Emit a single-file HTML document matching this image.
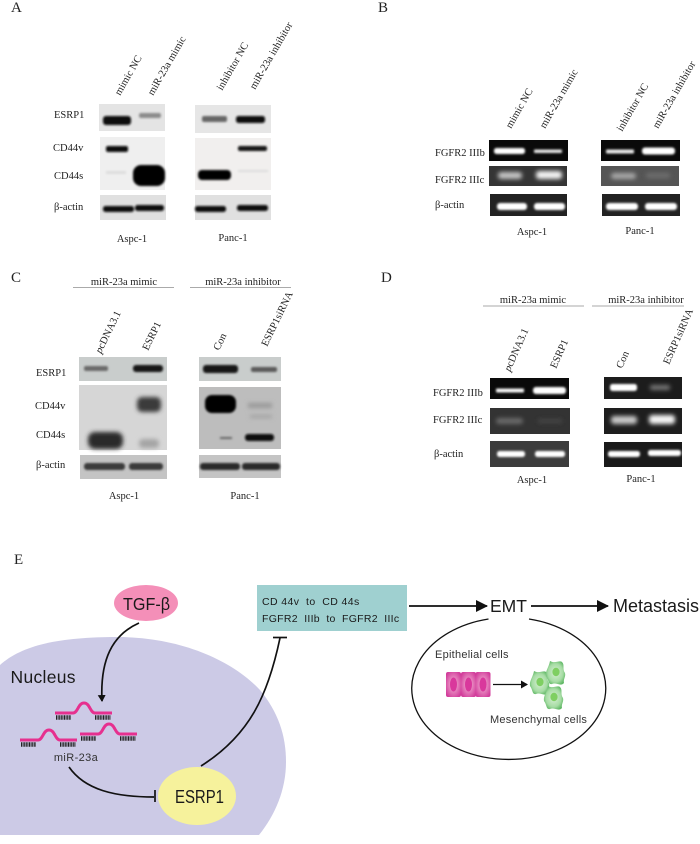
<!DOCTYPE html>
<html lang="en"><head><meta charset="utf-8"><title>Figure</title>
<style>
html,body{margin:0;padding:0;background:#fff;width:700px;height:844px;overflow:hidden}
svg{display:block}
.s{font-family:"Liberation Serif",serif;font-size:10.5px;fill:#222}
.h{font-family:"Liberation Serif",serif;font-size:15px;fill:#222}
.a{font-family:"Liberation Sans",sans-serif;fill:#1a1a1a}
</style></head><body>
<svg width="700" height="844" viewBox="0 0 700 844" xmlns="http://www.w3.org/2000/svg">
<defs>
<filter id="b1" x="-30%" y="-100%" width="160%" height="300%"><feGaussianBlur stdDeviation="1.1"/></filter>
<filter id="b2" x="-30%" y="-100%" width="160%" height="300%"><feGaussianBlur stdDeviation="2.2"/></filter>
<marker id="ar" markerWidth="7" markerHeight="8" refX="6" refY="4" orient="auto" markerUnits="userSpaceOnUse"><path d="M0,0L7,4L0,8z" fill="#111"/></marker>
<marker id="ar2" markerWidth="12" markerHeight="12" refX="11" refY="6" orient="auto" markerUnits="userSpaceOnUse"><path d="M0,0L12,6L0,12z" fill="#111"/></marker>
<radialGradient id="pk" cx="50%" cy="50%" r="60%"><stop offset="0" stop-color="#f6bcd9"/><stop offset="1" stop-color="#d23d9b"/></radialGradient>
<radialGradient id="gr" cx="50%" cy="50%" r="55%"><stop offset="0" stop-color="#d8f0d4"/><stop offset="0.7" stop-color="#a6dca4"/><stop offset="1" stop-color="#63b968"/></radialGradient>
<g id="cell"><path d="M-6,-12 C-1,-9 3,-13 6,-11 C9,-8 6,-4 9,0 C10,4 7,6 8,10 C5,14 0,9 -4,11 C-8,12 -7,7 -10,3 C-11,-2 -7,-6 -6,-12z" fill="url(#gr)"/><ellipse cx="0" cy="-1" rx="3.6" ry="4.2" fill="#7fcf62"/></g>
<g id="mir"><path d="M55,713H73C78,713 78,703 84,703C90,703 90,713 95,713H112" fill="none" stroke="#e6308f" stroke-width="3"/><path d="M56,717.500H71M95,717.500H111" stroke="#222" stroke-width="4.500" stroke-dasharray="1 .6" fill="none"/></g>
</defs>
<rect width="700" height="844" fill="#fff"/>

<!-- Panel letters -->
<text class="h" x="11" y="12">A</text><text class="h" x="378" y="12">B</text><text class="h" x="11" y="282">C</text><text class="h" x="381" y="282">D</text><text class="h" x="14" y="564">E</text>

<!-- A -->
<rect x="99" y="104" width="66" height="27" fill="#e4e4e4"/><rect x="100" y="137" width="65" height="53" fill="#efefef"/><rect x="100" y="195" width="66" height="25" fill="#e0e0e0"/>
<rect x="195" y="105" width="76" height="28" fill="#e6e6e6"/><rect x="195" y="138" width="76" height="52" fill="#f1efee"/><rect x="195" y="195" width="76" height="25" fill="#e0e0e0"/>
<g filter="url(#b1)">
<rect x="103" y="116" width="28" height="9" rx="3" fill="#0c0c0c"/><rect x="139" y="113" width="22" height="5" rx="2" fill="#8c8c8c"/>
<rect x="202" y="116" width="25" height="6" rx="2" fill="#666"/><rect x="236" y="116" width="29" height="7" rx="2.500" fill="#0f0f0f"/>
<rect x="106" y="146" width="22" height="6" rx="2" fill="#111"/><rect x="238" y="146" width="29" height="5" rx="2" fill="#161616"/>
<rect x="133" y="165" width="32" height="21" rx="8" fill="#000"/><rect x="198" y="170" width="33" height="10" rx="4" fill="#050505"/>
<rect x="106" y="171" width="20" height="3" fill="#ddd"/><rect x="238" y="170" width="30" height="2" fill="#dcdcdc"/>
<rect x="103" y="206" width="31" height="6" rx="2.500" fill="#111"/><rect x="135" y="205" width="29" height="6" rx="2.500" fill="#111"/>
<rect x="195" y="206" width="31" height="6" rx="2.500" fill="#111"/><rect x="237" y="205" width="31" height="6" rx="2.500" fill="#111"/>
</g>
<text class="s" x="54" y="118">ESRP1</text><text class="s" x="53" y="151">CD44v</text><text class="s" x="54" y="179">CD44s</text><text class="s" x="54" y="210">β-actin</text>
<text class="s" x="132" y="242" text-anchor="middle">Aspc-1</text><text class="s" x="233" y="241" text-anchor="middle">Panc-1</text>
<text class="s" transform="translate(120,96) rotate(-60)">mimic NC</text>
<text class="s" transform="translate(153,96) rotate(-60)">miR-23a mimic</text>
<text class="s" transform="translate(222,91) rotate(-60)">inhibitor NC</text>
<text class="s" transform="translate(255,90) rotate(-60)">miR-23a inhibitor</text>

<!-- B -->
<rect x="489" y="140" width="79" height="21" fill="#0a0a0a"/><rect x="489" y="166" width="78" height="20" fill="#353535"/><rect x="490" y="194" width="77" height="22" fill="#222"/>
<rect x="601" y="140" width="79" height="21" fill="#0a0a0a"/><rect x="601" y="166" width="78" height="20" fill="#555"/><rect x="602" y="194" width="78" height="22" fill="#222"/>
<g filter="url(#b1)">
<rect x="494" y="148" width="31" height="6" rx="2.500" fill="#fff"/><rect x="534" y="149.500" width="28" height="3.500" rx="1" fill="#e4e4e4"/>
<rect x="606" y="149.500" width="28" height="4" rx="1" fill="#e8e8e8"/><rect x="642" y="147.500" width="33" height="7" rx="3" fill="#fff"/>
<rect x="497" y="203" width="30" height="7" rx="3" fill="#fff"/><rect x="534" y="203" width="31" height="7" rx="3" fill="#fff"/>
<rect x="606" y="203" width="32" height="7" rx="3" fill="#fff"/><rect x="645" y="203" width="32" height="7" rx="3" fill="#fff"/>
</g>
<g filter="url(#b2)">
<rect x="498" y="172" width="24" height="7" rx="3" fill="#c4c4c4"/><rect x="536" y="171" width="26" height="8" rx="3" fill="#f4f4f4"/>
<rect x="611" y="173" width="25" height="6" rx="3" fill="#a8a8a8"/><rect x="646" y="173" width="24" height="5" rx="2" fill="#6e6e6e"/>
</g>
<text class="s" x="435" y="156">FGFR2 IIIb</text><text class="s" x="435" y="183">FGFR2 IIIc</text><text class="s" x="435" y="208">β-actin</text>
<text class="s" x="532" y="235" text-anchor="middle">Aspc-1</text><text class="s" x="640" y="234" text-anchor="middle">Panc-1</text>
<text class="s" transform="translate(511,129) rotate(-60)">mimic NC</text>
<text class="s" transform="translate(545,129) rotate(-60)">miR-23a mimic</text>
<text class="s" transform="translate(622,132) rotate(-60)">inhibitor NC</text>
<text class="s" transform="translate(658,129) rotate(-60)">miR-23a inhibitor</text>

<!-- C -->
<rect x="79" y="357" width="88" height="24" fill="#c9cdcc"/><rect x="79" y="385" width="88" height="65" fill="#d6d6d6"/><rect x="80" y="455" width="87" height="24" fill="#c4c4c4"/>
<rect x="199" y="357" width="82" height="24" fill="#c9cdcc"/><rect x="199" y="387" width="82" height="62" fill="#bdbdbd"/><rect x="199" y="455" width="82" height="23" fill="#c4c4c4"/>
<g filter="url(#b1)">
<rect x="84" y="366" width="24" height="5" rx="2" fill="#6a6a6a"/><rect x="133" y="365" width="30" height="7" rx="3" fill="#181818"/>
<rect x="203" y="365" width="35" height="8" rx="3" fill="#181818"/><rect x="251" y="367" width="26" height="5" rx="2" fill="#5a5a5a"/>
<rect x="205" y="395" width="31" height="18" rx="7" fill="#050505"/><rect x="245" y="434" width="29" height="7" rx="3" fill="#0f0f0f"/><rect x="220" y="437" width="12" height="2" fill="#666"/>
<rect x="84" y="463" width="41" height="7" rx="3" fill="#3a3a3a"/><rect x="129" y="463" width="34" height="7" rx="3" fill="#3a3a3a"/>
<rect x="200" y="463" width="40" height="7" rx="3" fill="#2c2c2c"/><rect x="242" y="463" width="38" height="7" rx="3" fill="#2c2c2c"/>
</g>
<g filter="url(#b2)">
<rect x="137" y="397" width="24" height="15" rx="5" fill="#3a3a3a"/><rect x="88" y="432" width="35" height="17" rx="7" fill="#2c2c2c"/><rect x="139" y="439" width="20" height="9" rx="4" fill="#a5a5a5"/>
<rect x="248" y="403" width="24" height="5" fill="#999"/><rect x="250" y="415" width="22" height="3" fill="#a0a0a0"/>
</g>
<text class="s" x="36" y="376">ESRP1</text><text class="s" x="35" y="409">CD44v</text><text class="s" x="36" y="438">CD44s</text><text class="s" x="36" y="468">β-actin</text>
<text class="s" x="124" y="499" text-anchor="middle">Aspc-1</text><text class="s" x="245" y="499" text-anchor="middle">Panc-1</text>
<text class="s" x="124" y="285" text-anchor="middle">miR-23a mimic</text><text class="s" x="243" y="285" text-anchor="middle">miR-23a inhibitor</text>
<path d="M73,287.500H174M190,287.500H291" stroke="#aaa" stroke-width="1"/>
<text class="s" transform="translate(101,354) rotate(-64)"><tspan font-style="italic">p</tspan>cDNA3.1</text>
<text class="s" transform="translate(148,351) rotate(-64)">ESRP1</text>
<text class="s" transform="translate(219,351) rotate(-64)">Con</text>
<text class="s" transform="translate(267,347) rotate(-64)">ESRP1siRNA</text>

<!-- D -->
<rect x="490" y="378" width="79" height="21" fill="#0a0a0a"/><rect x="490" y="408" width="80" height="26" fill="#333"/><rect x="490" y="441" width="79" height="26" fill="#3c3c3c"/>
<rect x="604" y="377" width="78" height="22" fill="#1c1c1c"/><rect x="604" y="408" width="78" height="26" fill="#1e1e1e"/><rect x="604" y="442" width="78" height="25" fill="#1a1a1a"/>
<g filter="url(#b1)">
<rect x="496" y="388.500" width="28" height="4" rx="1" fill="#f4f4f4"/><rect x="533" y="387" width="33" height="7" rx="3" fill="#fff"/>
<rect x="497" y="451" width="28" height="6" rx="2.500" fill="#fff"/><rect x="535" y="451" width="30" height="6" rx="2.500" fill="#fff"/>
<rect x="610" y="384" width="27" height="7" rx="2.500" fill="#fff"/>
<rect x="608" y="451" width="32" height="6" rx="2.500" fill="#fff"/><rect x="648" y="450" width="33" height="6" rx="2.500" fill="#fff"/>
</g>
<g filter="url(#b2)">
<rect x="496" y="418" width="27" height="6" rx="3" fill="#6a6a6a"/><rect x="538" y="419" width="24" height="4" fill="#444"/>
<rect x="650" y="385" width="20" height="5" rx="2" fill="#777"/>
<rect x="611" y="416" width="26" height="8" rx="3" fill="#c8c8c8"/><rect x="649" y="415" width="26" height="9" rx="3" fill="#f4f4f4"/>
</g>
<text class="s" x="433" y="396">FGFR2 IIIb</text><text class="s" x="433" y="423">FGFR2 IIIc</text><text class="s" x="434" y="457">β-actin</text>
<text class="s" x="532" y="483" text-anchor="middle">Aspc-1</text><text class="s" x="641" y="482" text-anchor="middle">Panc-1</text>
<text class="s" x="533" y="303" text-anchor="middle">miR-23a mimic</text><text class="s" x="646" y="303" text-anchor="middle">miR-23a inhibitor</text>
<path d="M483,306H584M592,306H684" stroke="#aaa" stroke-width="1"/>
<text class="s" transform="translate(510,372) rotate(-66)"><tspan font-style="italic">p</tspan>cDNA3.1</text>
<text class="s" transform="translate(556,369) rotate(-66)">ESRP1</text>
<text class="s" transform="translate(622,369) rotate(-66)">Con</text>
<text class="s" transform="translate(669,365) rotate(-66)">ESRP1siRNA</text>

<!-- E -->
<path d="M0,665C22,645 60,637 117,637C180,637 232,660 260,690C278,712 286,735 286,762C286,790 275,815 259,835H0z" fill="#cccae6"/>
<ellipse cx="146" cy="603" rx="32" ry="18" fill="#f48fb8"/>
<text class="a" x="146.500" y="610" font-size="17.500" text-anchor="middle" textLength="47" lengthAdjust="spacingAndGlyphs">TGF-β</text>
<path d="M139,623C112,635 100,660 102,701" fill="none" stroke="#111" stroke-width="1.700" marker-end="url(#ar)"/>
<text class="a" x="10.500" y="683" font-size="17.500" letter-spacing=".3">Nucleus</text>
<use href="#mir"/><use href="#mir" x="-35" y="27"/><use href="#mir" x="25" y="21"/>
<text class="a" x="76" y="761" font-size="11" text-anchor="middle" letter-spacing=".4" style="fill:#333">miR-23a</text>
<path d="M69,767C85,790 115,797 154,797" fill="none" stroke="#111" stroke-width="1.700"/>
<path d="M155,790V802" stroke="#111" stroke-width="1.700"/>
<ellipse cx="197" cy="796" rx="39" ry="29" fill="#f6f29c"/>
<text class="a" x="199.500" y="803" font-size="18" text-anchor="middle" textLength="49" lengthAdjust="spacingAndGlyphs">ESRP1</text>
<path d="M201,766C250,735 268,695 280,638" fill="none" stroke="#111" stroke-width="1.700"/>
<path d="M273,637.500H287" stroke="#111" stroke-width="1.700"/>
<rect x="257" y="585" width="150" height="46" fill="#9fd0d0"/>
<text class="a" x="262" y="605" font-size="10.500" letter-spacing=".4" xml:space="preserve">CD 44v  to  CD 44s</text>
<text class="a" x="262" y="622" font-size="10.500" letter-spacing=".28" xml:space="preserve">FGFR2  IIIb  to  FGFR2  IIIc</text>
<path d="M409,606H487" stroke="#111" stroke-width="1.700" marker-end="url(#ar2)"/>
<path d="M531,606H608" stroke="#111" stroke-width="1.700" marker-end="url(#ar2)"/>
<text class="a" x="490" y="612" font-size="17.500">EMT</text>
<text class="a" x="613" y="612" font-size="18">Metastasis</text>
<path d="M488.500,619A97,71 0 1 0 529,619" fill="none" stroke="#111" stroke-width="1.300"/>
<text class="a" x="435" y="658" font-size="11" letter-spacing=".25" style="fill:#333">Epithelial cells</text>
<text class="a" x="490" y="723" font-size="11" letter-spacing=".25" style="fill:#333">Mesenchymal cells</text>
<rect x="446" y="672" width="15" height="25" rx="2" fill="url(#pk)"/><rect x="461" y="672" width="15" height="25" rx="2" fill="url(#pk)"/><rect x="475.500" y="672" width="15" height="25" rx="2" fill="url(#pk)"/>
<ellipse cx="453.500" cy="684.500" rx="3.500" ry="7" fill="#d9389c"/><ellipse cx="468.500" cy="684.500" rx="3.500" ry="7" fill="#d9389c"/><ellipse cx="483" cy="684.500" rx="3.500" ry="7" fill="#d9389c"/>
<path d="M493,684.500H527" stroke="#111" stroke-width="1.300" marker-end="url(#ar)"/>
<use href="#cell" x="540" y="683"/><use href="#cell" x="556" y="673"/><use href="#cell" x="554" y="698"/>
</svg>
</body></html>
